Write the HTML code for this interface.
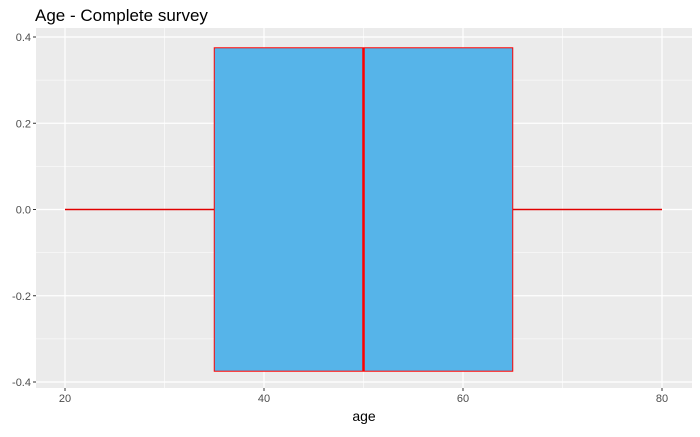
<!DOCTYPE html>
<html><head><meta charset="utf-8"><style>
body{margin:0;background:#fff;font-family:"Liberation Sans",sans-serif}
</style></head><body>
<svg id="chart" width="700" height="432" xmlns="http://www.w3.org/2000/svg">
<text x="35" y="21" font-size="17" fill="#000">Age - Complete survey</text>
<rect x="36" y="28" width="656" height="360" fill="#EBEBEB"/>
<g id="grid"></g>
<g id="marks"></g>
<g id="axes"></g>
<text x="364" y="421" font-size="14" text-anchor="middle" fill="#000">age</text>
</svg>
<script>
const xTicks=[20,40,60,80];
const yTicks=[-0.4,-0.2,0.0,0.2,0.4];
const yTickLabels=["-0.4","-0.2","0.0","0.2","0.4"];
const boxStats=[20,35,50,65,80]; // min, q1, median, q3, max
const boxHalfWidth=[0.375];
const ns="http://www.w3.org/2000/svg";
const X=v=>65+(v-20)*(662-65)/60;
const Y=v=>209.5-v*(345/0.8);
function mk(tag,attrs,parent){const e=document.createElementNS(ns,tag);for(const k in attrs)e.setAttribute(k,attrs[k]);document.getElementById(parent).appendChild(e);return e;}
const L=36,R=692,T=28,B=388;
for(let i=0;i<xTicks.length-1;i++){const m=(xTicks[i]+xTicks[i+1])/2;
const g=mk('line',{x1:X(m),x2:X(m),y1:T,y2:B,stroke:'#fff','stroke-width':0.6},'grid');

}
for(let i=0;i<yTicks.length-1;i++){const m=(yTicks[i]+yTicks[i+1])/2;
const g=mk('line',{x1:L,x2:R,y1:Y(m),y2:Y(m),stroke:'#fff','stroke-width':0.6},'grid');

}
xTicks.forEach(t=>{const g=mk('line',{x1:X(t),x2:X(t),y1:T,y2:B,stroke:'#fff','stroke-width':1.2},'grid');


const k=mk('line',{x1:X(t),x2:X(t),y1:B,y2:B+3,stroke:'#333'},'axes');


const tx=mk('text',{x:X(t),y:B+14,'font-size':11,'text-anchor':'middle',fill:'#4D4D4D'},'axes');tx.textContent=t;

});
yTicks.forEach((t,i)=>{const g=mk('line',{x1:L,x2:R,y1:Y(t),y2:Y(t),stroke:'#fff','stroke-width':1.2},'grid');


const k=mk('line',{x1:L-3,x2:L,y1:Y(t),y2:Y(t),stroke:'#333'},'axes');


const tx=mk('text',{x:L-5,y:Y(t)+4,'font-size':11,'text-anchor':'end',fill:'#4D4D4D'},'axes');tx.textContent=yTickLabels[i];

});
const [mn,q1,md,q3,mx]=boxStats;const h=boxHalfWidth[0];
const w1=mk('line',{x1:X(mn),x2:X(q1),y1:Y(0),y2:Y(0),stroke:'#E00000','stroke-width':1.5},'marks');


const w2=mk('line',{x1:X(q3),x2:X(mx),y1:Y(0),y2:Y(0),stroke:'#E00000','stroke-width':1.5},'marks');


const bx=mk('rect',{x:X(q1),y:Y(h),width:X(q3)-X(q1),height:Y(-h)-Y(h),fill:'#56B4E9',stroke:'#FF0000','stroke-width':1},'marks');


const me=mk('line',{x1:X(md),x2:X(md),y1:Y(h),y2:Y(-h),stroke:'#FF0000','stroke-width':2.5},'marks');


</script>
</body></html>
